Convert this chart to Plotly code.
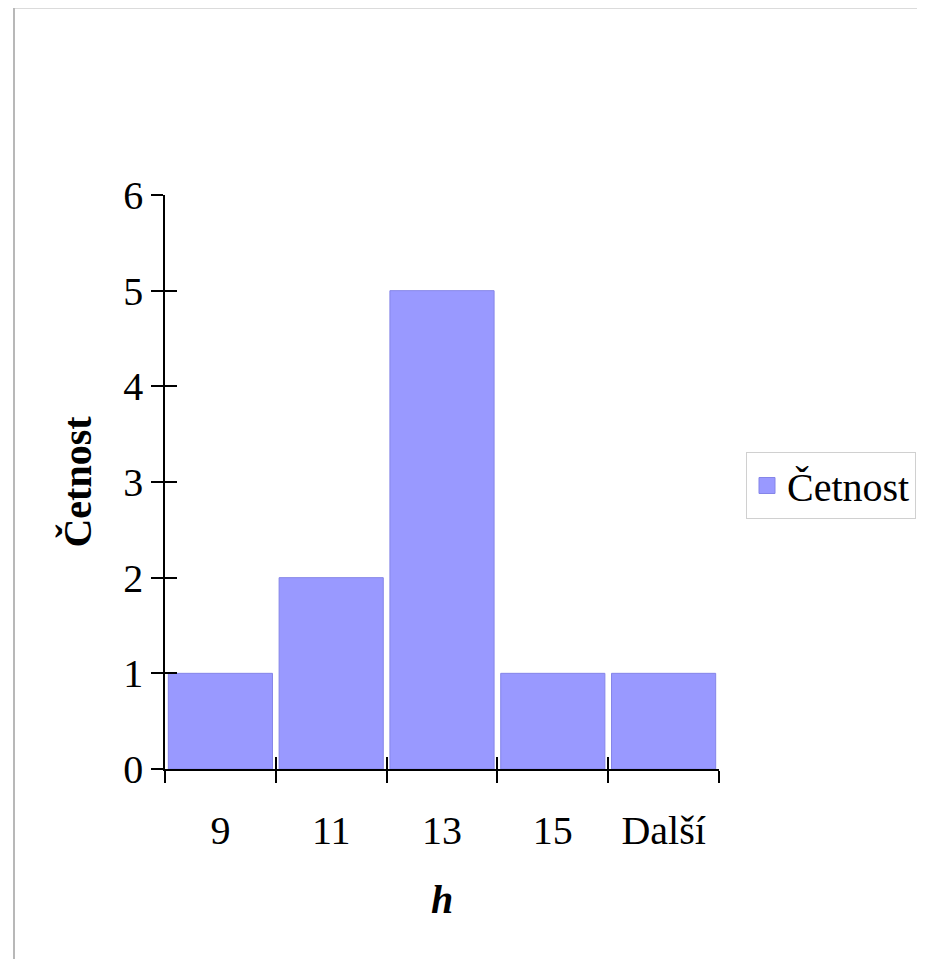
import plotly.graph_objects as go

categories = ["9", "11", "13", "15", "Další"]
counts = [1, 2, 5, 1, 1]
series_name = "Četnost"
y_ticks = [0, 1, 2, 3, 4, 5, 6]

FONT = "Liberation Serif, Times New Roman, serif"
OFF = 8  # page body offset
W, H = 925, 959 - OFF
L, T = 165 - OFF, 195 - OFF
pw, ph = 554, 574
R, B = W - L - pw, H - T - ph

fig = go.Figure()
fig.add_trace(go.Bar(
    x=categories, y=counts, name=series_name,
    marker=dict(color="#9999ff", line=dict(color="#8585e8", width=1)),
    width=0.94, showlegend=False,
))
# legend entry with a larger square swatch
fig.add_trace(go.Scatter(
    x=[categories[0]], y=[None], name=series_name, mode="markers",
    marker=dict(symbol="square", size=22, color="#9999ff",
                line=dict(color="#8585e8", width=1)),
    hoverinfo="skip",
))
# helper invisible trace so overlay axes render
fig.add_trace(go.Scatter(x=[-0.5, 4.5], y=[0, 6], xaxis="x2", yaxis="y2",
                         mode="markers", marker=dict(opacity=0), showlegend=False,
                         hoverinfo="skip"))

fig.update_layout(
    width=W, height=H,
    margin=dict(l=L, r=R, t=T, b=B, pad=0),
    paper_bgcolor="white", plot_bgcolor="white",
    font=dict(family=FONT, size=40, color="black"),
    bargap=0.06,
    xaxis=dict(
        type="category", range=[-0.5, 4.5],
        showline=True, linecolor="black", linewidth=1.5,
        ticks="outside", ticklen=12, tickcolor="black", tickwidth=1.5,
        tickson="boundaries", showgrid=False, zeroline=False,
        ticklabelstandoff=25,
        tickfont=dict(family=FONT, size=40),
        title=dict(text="<b><i>h</i></b>", font=dict(family=FONT, size=40), standoff=33),
    ),
    yaxis=dict(
        range=[0, 6], tickvals=y_ticks,
        showline=True, linecolor="black", linewidth=1.5,
        ticks="outside", ticklen=12, tickcolor="black", tickwidth=1.5,
        showgrid=False, zeroline=False,
        tickfont=dict(family=FONT, size=40),
        ticklabelstandoff=0,
        title=dict(text="<b>Četnost</b>", font=dict(family=FONT, size=40), standoff=19),
    ),
    xaxis2=dict(
        overlaying="x", anchor="y", range=[-0.5, 4.5],
        tickvals=[-0.5, 0.5, 1.5, 2.5, 3.5, 4.5],
        ticks="inside", ticklen=12, tickcolor="black", tickwidth=1.5,
        showticklabels=False, showgrid=False, zeroline=False, showline=False,
    ),
    yaxis2=dict(
        overlaying="y", anchor="x", range=[0, 6], tickvals=y_ticks,
        ticks="inside", ticklen=12, tickcolor="black", tickwidth=1.5,
        showticklabels=False, showgrid=False, zeroline=False, showline=False,
    ),
    legend=dict(
        x=(746 - 165) / pw, y=(769 - 452) / ph, xanchor="left", yanchor="top",
        bordercolor="#d0d0d0", borderwidth=1, bgcolor="white",
        font=dict(family=FONT, size=40),
    ),
    showlegend=True,
    shapes=[dict(
        type="rect", xref="paper", yref="paper",
        x0=(14 - 165) / pw, x1=3, y0=-1, y1=(769 - 7.5) / ph,
        line=dict(color="#b8b8b8", width=2), fillcolor="rgba(0,0,0,0)", layer="below",
    )],
)

fig.write_html("out.html")
